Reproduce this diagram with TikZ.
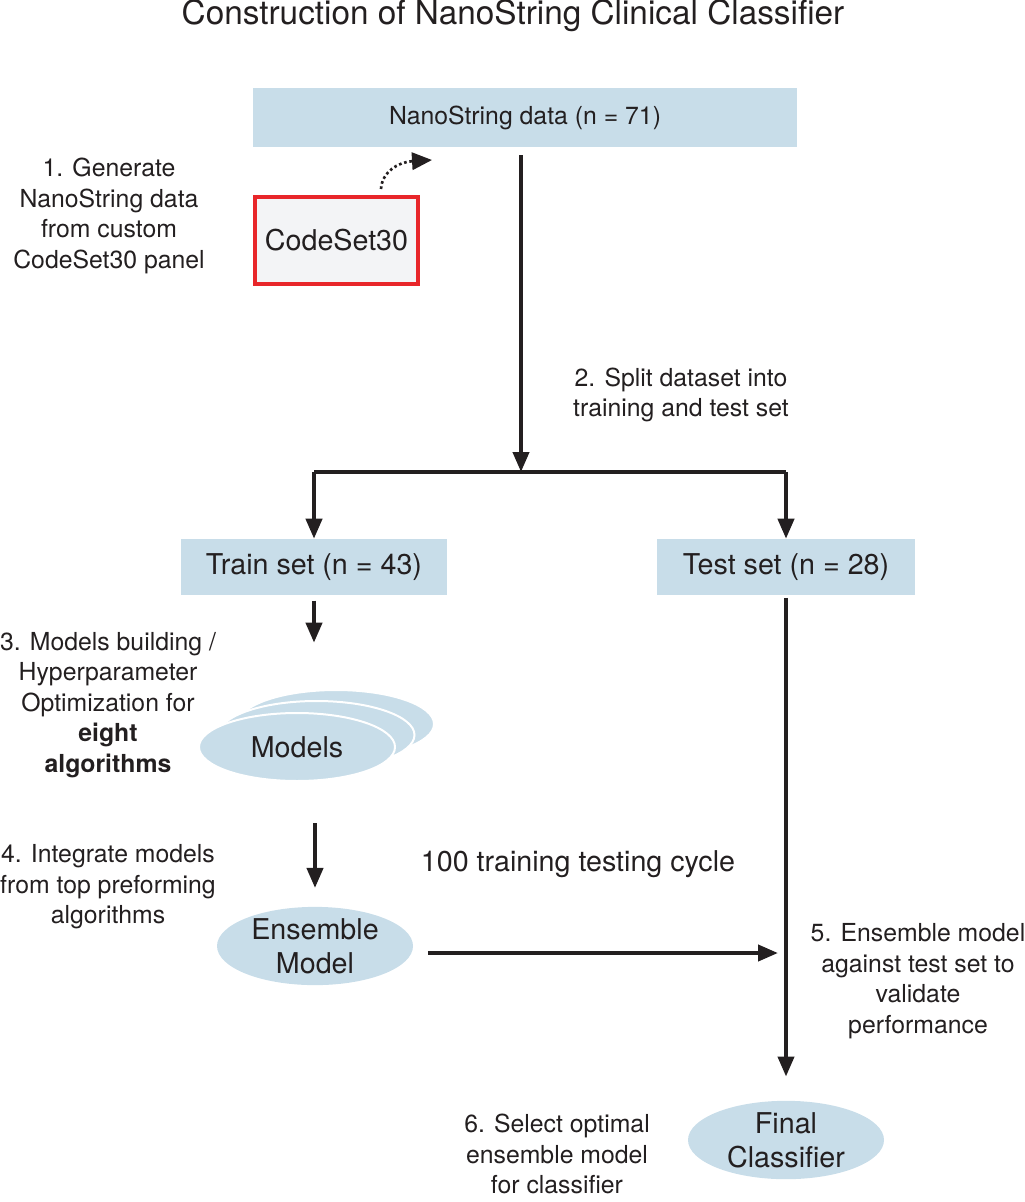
\documentclass[tikz,border=0pt]{standalone}
\usepackage{fontspec}
\setmainfont{TeX Gyre Heros}
\usepackage{xcolor}
\usetikzlibrary{shapes.geometric}
\usetikzlibrary{arrows.meta}

\definecolor{ink}{HTML}{231F20}
\definecolor{boxblue}{HTML}{C8DDE9}
\definecolor{panelred}{HTML}{E8262A}
\definecolor{panelgray}{HTML}{F3F4F6}
\newcommand{\nodefont}{\fontsize{21.5}{25.5}\selectfont}
\newcommand{\notefont}{\fontsize{18.6}{22.9}\selectfont}

\begin{document}
\begin{tikzpicture}[x=0.75pt, y=-0.75pt,
	box/.style={fill=boxblue, inner sep=0pt, text=ink, font=\nodefont},
	oval/.style={ellipse, fill=boxblue, inner sep=0pt, minimum width=147pt, minimum height=51pt, align=center, text=ink, font=\nodefont},
	note/.style={align=center, inner sep=0pt, text=ink, font=\notefont},
	arr/.style={line width=3pt, draw=ink, -{Triangle[length=15pt, width=12pt]}}]
	\useasboundingbox (0,0) rectangle (1024,1202);

	%Title
	\node[text=ink, inner sep=0pt, font=\fontsize{25}{30}\selectfont] (title) at (513,16) {Construction of NanoString Clinical Classifier};

	%Boxes
	\node[box, minimum width=408pt, minimum height=44.25pt, font=\notefont] (nano) at (525,117.5) {NanoString data (n = 71)};
	\node[box, draw=panelred, fill=panelgray, line width=3pt, minimum width=122pt, minimum height=65pt] (codeset) at (336.5,240.5) {CodeSet30};
	\node[box, minimum width=199.5pt, minimum height=42pt] (train) at (314,567) {Train set (n = 43)};
	\node[box, minimum width=193.5pt, minimum height=42pt] (test) at (786,567) {Test set (n = 28)};

	%Ellipses
	\node[oval, draw=white, line width=1.5pt] (model3) at (336,724) {};
	\node[oval, draw=white, line width=1.5pt] (model2) at (316.5,735) {};
	\node[oval, draw=white, line width=1.5pt] (models) at (297,747) {Models};
	\node[oval] (ensemble) at (315,946) {Ensemble\\Model};
	\node[oval] (final) at (786,1140) {Final\\Classifier};

	%Notes
	\node[note] (n1) at (109,216) {1. Generate\\NanoString data\\from custom\\CodeSet30 panel};
	\node[note] (n2) at (681,395) {2. Split dataset into\\training and test set};
	\node[note] (n3) at (108,705) {3. Models building /\\Hyperparameter\\Optimization for\\\textbf{eight}\\\textbf{algorithms}};
	\node[note] (n4) at (108,887) {4. Integrate models\\from top preforming\\algorithms};
	\node[note] (n5) at (918,981) {5. Ensemble model\\against test set to\\validate\\performance};
	\node[note] (n6) at (557,1154) {6. Select optimal\\ensemble model\\for classifier};
	\node[note, font=\nodefont] (cycle) at (578,864) {100 training testing cycle};

	%Coordinates
	\coordinate (split) at (521,472);
	\coordinate (join) at (786,953);
	\coordinate (dotstart) at (381,189);
	\coordinate (dotend) at (432,160);

	%Connectors
	\draw[line width=2pt, draw=ink, dotted, -{Triangle[length=15pt, width=13pt]}] (dotstart) .. controls (382,172) and (398,162) .. (dotend);
	\draw[arr, shorten <=6pt] (split |- nano.south) -- (split);
	\draw[line width=3pt, draw=ink, line join=miter] (train.north |- split) -- (test.north |- split);
	\draw[arr] (train.north |- split) -- (train.north);
	\draw[arr] (test.north |- split) -- (test.north);
	\draw[arr, shorten <=4pt, shorten >=52pt] (train.south) -- (train.south |- models.north);
	\draw[arr, shorten <=31pt, shorten >=14pt] (ensemble.north |- models.south) -- (ensemble.north);
	\draw[arr, shorten <=11pt, shorten >=6pt] (ensemble.east |- join) -- (join);
	\draw[arr, shorten <=2pt, shorten >=18pt] (test.south) -- (final.north);
\end{tikzpicture}
\end{document}
